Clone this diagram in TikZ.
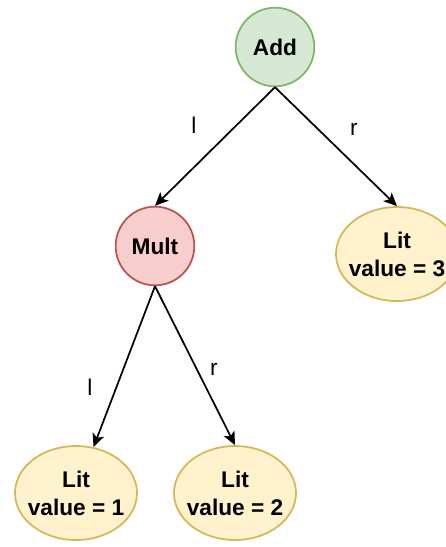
\documentclass[tikz,border=0pt]{standalone}
\usepackage{fontspec}
\setmainfont{Liberation Sans}
\usepackage{tikz}
\usetikzlibrary{positioning,shapes.geometric,arrows.meta}

\definecolor{addfill}{HTML}{D5E8D4}
\definecolor{adddraw}{HTML}{82B366}
\definecolor{multfill}{HTML}{F8CECC}
\definecolor{multdraw}{HTML}{B85450}
\definecolor{litfill}{HTML}{FFF2CC}
\definecolor{litdraw}{HTML}{D6B656}

\tikzset{
  opnode/.style={circle, draw, line width=1.3pt, minimum size=59pt, inner sep=0pt,
    font=\fontsize{17}{21}\selectfont\bfseries},
  litnode/.style={ellipse, draw=litdraw, fill=litfill, line width=1.3pt,
    minimum width=91.5pt, minimum height=70.5pt, inner sep=0pt},
  littext/.style={align=center, inner sep=0pt, font=\fontsize{17}{21}\selectfont\bfseries},
  edgelab/.style={inner sep=0pt, font=\fontsize{17}{21}\selectfont},
  link/.style={line width=1.3pt, -{Stealth[length=10pt,width=9pt,inset=2.5pt]}}
}

\begin{document}
\begin{tikzpicture}[x=0.75pt, y=-0.75pt]
      \clip (0,0) rectangle (446,547);

      % Livello superiore
      \node (add) at (275,47) [opnode, draw=adddraw, fill=addfill] {Add};

      % Livello intermedio
      \node (mult) at (155,246) [opnode, draw=multdraw, fill=multfill] {Mult};
      \node (lit3) at (397,254) [litnode] {};
      \node (lit3t) at (lit3) [littext] {Lit\\value = 3};

      % Livello inferiore
      \node (lit1) at (76,493) [litnode] {};
      \node (lit1t) at (lit1) [littext] {Lit\\value = 1};
      \node (lit2) at (235,493) [litnode] {};
      \node (lit2t) at (lit2) [littext] {Lit\\value = 2};

      % Collegamenti
      \draw[link] (add.south) -- (mult.north);
      \draw[link] (add.south) -- (lit3.north);
      \draw[link] (mult.south) -- (lit1);
      \draw[link] (mult.south) -- (lit2.north);

      % Etichette
      \node (l1) at (194,125) [edgelab] {l};
      \node (r1) at (354,129) [edgelab] {r};
      \node (l2) at (90,387) [edgelab] {l};
      \node (r2) at (214,369) [edgelab] {r};
    \end{tikzpicture}
\end{document}
